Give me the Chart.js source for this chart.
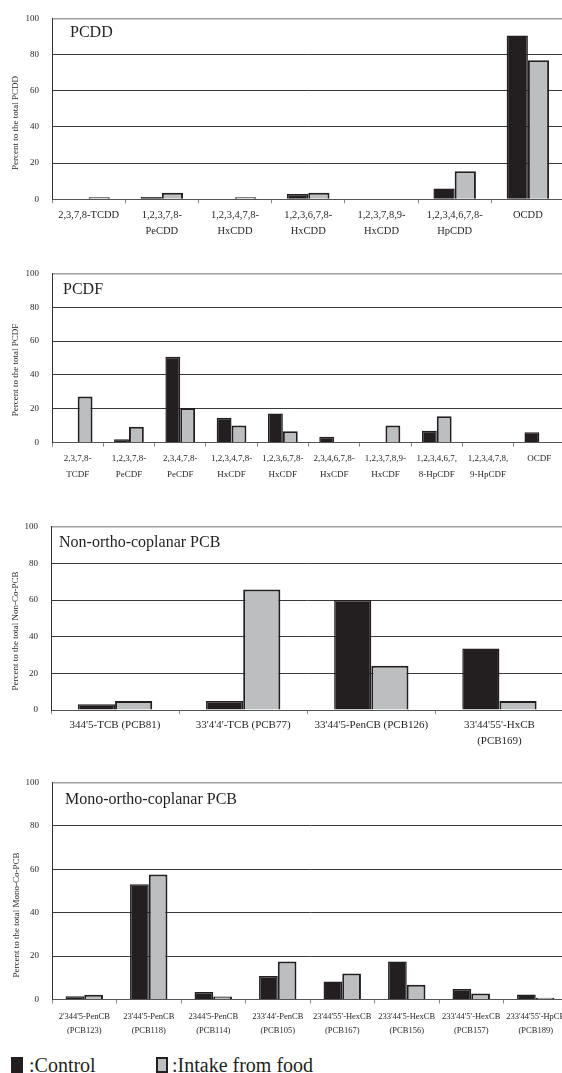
<!DOCTYPE html>
<html>
<head>
<meta charset="utf-8">
<script src="https://cdn.jsdelivr.net/npm/chart.js@4.4.1/dist/chart.umd.min.js"></script>
<style>
  html, body { margin: 0; padding: 0; background: #fff; }
  body { position: relative; width: 562px; height: 1073px; overflow: hidden; color: #231f20; }
  canvas { position: absolute; left: 0; }
  .sw { position: absolute; top: 1057px; width: 12px; height: 16px; box-sizing: border-box; }
  .txt { position: absolute; top: 1055px; font-family: "Liberation Serif", "DejaVu Serif", serif; font-size: 20px; line-height: 20px; white-space: nowrap; }
</style>
</head>
<body>
<canvas id="pcdd"></canvas>
<canvas id="pcdf"></canvas>
<canvas id="nonco"></canvas>
<canvas id="monoco"></canvas>

<div class="sw" style="left:11px;background:#231f20"></div>
<div class="txt" style="left:29px">:Control</div>
<div class="sw" style="left:156px;background:#bcbec0;border:2px solid #231f20"></div>
<div class="txt" style="left:172px">:Intake from food</div>

<script>
// ---- data ----
const seriesNames = ['Control', 'Intake from food']
const yTicks = [0, 20, 40, 60, 80, 100]

const pcddLabels = ['2,3,7,8-TCDD', ['1,2,3,7,8-', 'PeCDD'], ['1,2,3,4,7,8-', 'HxCDD'], ['1,2,3,6,7,8-', 'HxCDD'],
  ['1,2,3,7,8,9-', 'HxCDD'], ['1,2,3,4,6,7,8-', 'HpCDD'], 'OCDD']
const pcddControl = [0, 1.3, 0, 2.9, 0, 6.0, 90.5]
const pcddFood = [1.2, 3.6, 1.2, 3.6, 0, 15.5, 76.9]

const pcdfLabels = [['2,3,7,8-', 'TCDF'], ['1,2,3,7,8-', 'PeCDF'], ['2,3,4,7,8-', 'PeCDF'], ['1,2,3,4,7,8-', 'HxCDF'],
  ['1,2,3,6,7,8-', 'HxCDF'], ['2,3,4,6,7,8-', 'HxCDF'], ['1,2,3,7,8,9-', 'HxCDF'], ['1,2,3,4,6,7,', '8-HpCDF'],
  ['1,2,3,4,7,8,', '9-HpCDF'], 'OCDF']
const pcdfControl = [0, 2.0, 50.8, 14.8, 17.3, 3.5, 0, 7.1, 0, 6.1]
const pcdfFood = [27.2, 9.4, 20.5, 10.2, 6.7, 0, 10.2, 15.6, 0, 0]

const nonCoLabels = ["344'5-TCB (PCB81)", "33'4'4'-TCB (PCB77)", "33'44'5-PenCB (PCB126)", ["33'44'55'-HxCB", '(PCB169)']]
const nonCoControl = [3.1, 4.9, 60.0, 33.6]
const nonCoFood = [4.9, 65.8, 24.2, 4.9]

const monoCoLabels = [["2'344'5-PenCB", '(PCB123)'], ["23'44'5-PenCB", '(PCB118)'], ["2344'5-PenCB", '(PCB114)'],
  ["233'44'-PenCB", '(PCB105)'], ["23'44'55'-HexCB", '(PCB167)'], ["233'44'5-HexCB", '(PCB156)'],
  ["233'44'5'-HexCB", '(PCB157)'], ["233'44'55'-HpCB", '(PCB189)']]
const monoCoControl = [1.5, 53.1, 3.5, 10.8, 8.3, 17.5, 4.8, 2.3]
const monoCoFood = [2.2, 57.5, 1.4, 17.5, 12.0, 6.8, 2.8, 0.8]

// ---- drawing ----
const INK = '#231f20'
const GREY = '#bcbec0'
const SERIF = '"Liberation Serif", "Times New Roman", serif'
const CANVAS_W = 575

// panel title inside the plot + rotated y title
const panelText = {
  id: 'panelText',
  afterDraw(chart, args, o) {
    const ctx = chart.ctx
    ctx.save()
    ctx.fillStyle = INK
    ctx.textBaseline = 'middle'
    ctx.font = '16px ' + SERIF
    ctx.fillText(o.title, o.titleX, o.titleY)
    ctx.translate(o.yTitleX, o.yTitleY)
    ctx.rotate(-Math.PI / 2)
    ctx.textAlign = 'center'
    ctx.font = '9px ' + SERIF
    ctx.fillText(o.yTitle, 0, 0)
    ctx.restore()
  },
}

function makeChart(id, labels, control, food, g) {
  const el = document.getElementById(id)
  el.width = CANVAS_W
  el.height = g.h
  el.style.top = g.top + 'px'
  const xH = g.h - (g.bottom - g.top)
  return new Chart(el, {
    type: 'bar',
    data: {
      labels,
      datasets: [
        { label: seriesNames[0], data: control, backgroundColor: INK, borderColor: INK, borderWidth: 1.5 },
        { label: seriesNames[1], data: food, backgroundColor: GREY, borderColor: INK, borderWidth: 2 },
      ],
    },
    options: {
      responsive: false,
      animation: false,
      devicePixelRatio: 1,
      categoryPercentage: 0.58,
      barPercentage: 1,
      layout: { padding: { top: g.areaTop - g.top, right: CANVAS_W - g.right, left: 0, bottom: 0 } },
      plugins: {
        legend: { display: false },
        tooltip: { enabled: false },
        panelText: {
          title: g.title, titleX: g.titleX, titleY: g.titleY - g.top,
          yTitle: g.yTitle, yTitleX: g.yTitleX, yTitleY: g.yTitleY - g.top,
        },
      },
      scales: {
        x: {
          afterFit: s => { s.height = xH },
          border: { display: true, color: '#555', width: 1 },
          grid: { display: true, drawOnChartArea: false, drawTicks: true, tickLength: 4, color: '#888', offset: true },
          ticks: {
            autoSkip: false, maxRotation: 0, minRotation: 0, padding: g.tickPad, color: INK,
            font: { family: SERIF, size: g.tickSize, lineHeight: g.lineH },
          },
        },
        y: {
          min: 0, max: 100,
          afterFit: s => { s.width = g.left },
          afterBuildTicks: s => { s.ticks = yTicks.map(v => ({ value: v })) },
          border: { display: true, color: '#333', width: 1 },
          grid: {
            drawTicks: false,
            color: c => (c.tick && c.tick.value === 100 ? '#a0a0a0' : '#3a3a3a'),
            lineWidth: c => (c.tick && c.tick.value === 100 ? 1.5 : 1),
          },
          ticks: { padding: 13, color: INK, font: { family: SERIF, size: 9 } },
        },
      },
    },
    plugins: [panelText],
  })
}

makeChart('pcdd', pcddLabels, pcddControl, pcddFood, {
  top: 0, h: 244, areaTop: 16.3, bottom: 199.3, left: 52, right: 564.5,
  tickSize: 10.5, lineH: 1.5, tickPad: 4,
  title: 'PCDD', titleX: 70, titleY: 33,
  yTitle: 'Percent to the total PCDD', yTitleX: 15.5, yTitleY: 123,
})

makeChart('pcdf', pcdfLabels, pcdfControl, pcdfFood, {
  top: 250, h: 245, areaTop: 273.3, bottom: 442.7, left: 52, right: 565,
  tickSize: 9, lineH: 1.75, tickPad: 4.3,
  title: 'PCDF', titleX: 63, titleY: 290,
  yTitle: 'Percent to the total PCDF', yTitleX: 16, yTitleY: 370,
})

makeChart('nonco', nonCoLabels, nonCoControl, nonCoFood, {
  top: 505, h: 250, areaTop: 526.7, bottom: 710, left: 51, right: 563.5,
  tickSize: 11, lineH: 1.45, tickPad: 3,
  title: 'Non-ortho-coplanar PCB', titleX: 59, titleY: 543,
  yTitle: 'Percent to the total Non-Co-PCB', yTitleX: 16, yTitleY: 631,
})

makeChart('monoco', monoCoLabels, monoCoControl, monoCoFood, {
  top: 760, h: 288, areaTop: 782.3, bottom: 999.5, left: 52, right: 568,
  tickSize: 8.5, lineH: 1.7, tickPad: 5.7,
  title: 'Mono-ortho-coplanar PCB', titleX: 65, titleY: 800,
  yTitle: 'Percent to the total Mono-Co-PCB', yTitleX: 17, yTitleY: 915,
})
</script>
</body>
</html>
